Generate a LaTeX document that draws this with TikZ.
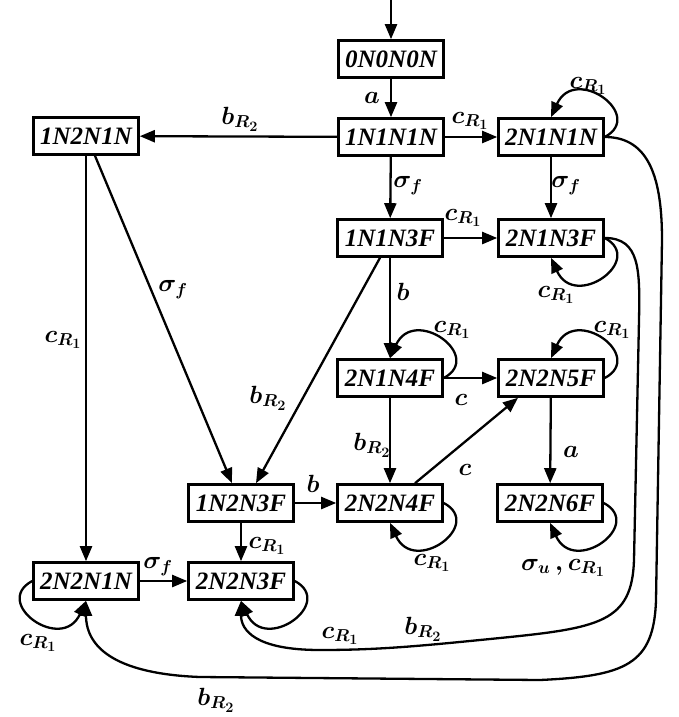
\documentclass[tikz,border=0pt]{standalone}
\usepackage{fontspec}
\setmainfont{Liberation Serif}
\usetikzlibrary{arrows.meta}
\begin{document}
\begin{tikzpicture}[x=1pt,y=-1pt,
 st/.style={draw,line width=2.6pt,minimum width=105pt,minimum height=37pt,inner sep=1pt,font=\fontsize{25}{26}\selectfont\bfseries\itshape},
 arr/.style={line width=2.3pt,-{Triangle[length=15pt,width=12pt]}},
 lb/.style={font=\fontsize{27}{28}\selectfont\boldmath,inner sep=0pt}]
\useasboundingbox (0,0) rectangle (679,717);
% states
\node[st] (s000) at (391,59) {0N0N0N};
\node[st] (s111) at (391,137) {1N1N1N};
\node[st] (s211) at (551,137) {2N1N1N};
\node[st] (s121) at (86,136) {1N2N1N};
\node[st] (s113) at (390,238) {1N1N3F};
\node[st] (s213) at (551,238) {2N1N3F};
\node[st] (s214) at (390,378) {2N1N4F};
\node[st] (s225) at (551,378) {2N2N5F};
\node[st] (s123) at (241,503) {1N2N3F};
\node[st] (s224) at (390,503) {2N2N4F};
\node[st] (s226) at (550,503) {2N2N6F};
\node[st] (s221) at (86,581) {2N2N1N};
\node[st] (s223) at (241,581) {2N2N3F};
\coordinate (init) at (391,0);
% straight transitions
\draw[arr] (init) -- (s000.north);
\draw[arr] (s000) -- (s111);
\draw[arr] (s111) -- (s211);
\draw[arr] (s111) -- (s121);
\draw[arr] (s111) -- (s113);
\draw[arr] (s211) -- (s213);
\draw[arr] (s113) -- (s213);
\draw[arr] (s113) -- (s214);
\draw[arr] ([xshift=-10pt]s113.south) -- ([xshift=15pt]s123.north);
\draw[arr] ([xshift=9pt]s121.south) -- ([xshift=-9pt]s123.north);
\draw[arr] (s121) -- (s221);
\draw[arr] (s214) -- (s225);
\draw[arr] (s214) -- (s224);
\draw[arr] ([xshift=25pt]s224.north) -- ([xshift=-33pt]s225.south);
\draw[arr] (s225) -- (s226);
\draw[arr] (s123) -- (s224);
\draw[arr] (s123) -- (s223);
\draw[arr] (s221) -- (s223);
% self loops
\draw[arr] (s211.east) .. controls +(41,-22) and +(24,-53) .. (s211.north);
\draw[arr] (s214.east) .. controls +(41,-22) and +(24,-53) .. (s214.north);
\draw[arr] (s225.east) .. controls +(41,-22) and +(24,-53) .. (s225.north);
\draw[arr] (s213.east) .. controls +(41,22) and +(24,53) .. (s213.south);
\draw[arr] (s224.east) .. controls +(41,22) and +(24,53) .. (s224.south);
\draw[arr] (s226.east) .. controls +(41,22) and +(24,53) .. (s226.south);
\draw[arr] (s223.east) .. controls +(41,22) and +(24,53) .. (s223.south);
\draw[arr] (s221.west) .. controls +(-41,22) and +(-24,53) .. (s221.south);
% long curves
\draw[arr] (s213.east) .. controls (640,238) and (640,270) .. (639,320) -- (634,560)
  .. controls (632,622) and (600,628) .. (500,638)
  .. controls (420,646) and (380,650) .. (320,650)
  .. controls (255,650) and (241,630) .. (s223.south);
\draw[arr] (s211.east) .. controls (650,137) and (662,180) .. (662,240) -- (656,600)
  .. controls (654,665) and (625,676) .. (540,680) -- (200,677)
  .. controls (120,674) and (86,650) .. (s221.south);
% labels
\node[lb] (l1) at (372,98) {$a$};
\node[lb] (l2) at (470,121) {$c_{R_1}$};
\node[lb] (l3) at (240,119) {$b_{R_2}$};
\node[lb] (l4) at (588,86) {$c_{R_1}$};
\node[lb] (l5) at (408,186) {$\sigma_f$};
\node[lb] (l6) at (566,186) {$\sigma_f$};
\node[lb] (l7) at (463,218) {$c_{R_1}$};
\node[lb] (l8) at (556,295) {$c_{R_1}$};
\node[lb] (l9) at (403,292) {$b$};
\node[lb] (l10) at (268,398) {$b_{R_2}$};
\node[lb] (l11) at (173,290) {$\sigma_f$};
\node[lb] (l12) at (63,340) {$c_{R_1}$};
\node[lb] (l13) at (452,330) {$c_{R_1}$};
\node[lb] (l14) at (612,330) {$c_{R_1}$};
\node[lb] (l15) at (461,400) {$c$};
\node[lb] (l16) at (372,445) {$b_{R_2}$};
\node[lb] (l17) at (465,470) {$c$};
\node[lb] (l18) at (571,452) {$a$};
\node[lb] (l19) at (313,484) {$b$};
\node[lb] (l20) at (432,563) {$c_{R_1}$};
\node[lb] (l21) at (563,568) {$\sigma_u\,,c_{R_1}$};
\node[lb] (l22) at (267,546) {$c_{R_1}$};
\node[lb] (l23) at (158,567) {$\sigma_f$};
\node[lb] (l24) at (38,643) {$c_{R_1}$};
\node[lb] (l25) at (340,636) {$c_{R_1}$};
\node[lb] (l26) at (423,629) {$b_{R_2}$};
\node[lb] (l27) at (216,700) {$b_{R_2}$};
\end{tikzpicture}
\end{document}
